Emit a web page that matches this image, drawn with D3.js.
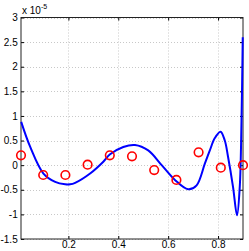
<!DOCTYPE html>
<html><head><meta charset="utf-8">
<script src="https://cdn.jsdelivr.net/npm/d3@7"></script>
<style>body{margin:0;background:#fff}svg{display:block}</style>
</head><body>
<script>
// data (y values in units of 1e-5)
const pointX = [0.01,0.099,0.188,0.277,0.366,0.455,0.544,0.633,0.722,0.811,0.9];
const pointY = [0.2,-0.2,-0.2,0.01,0.2,0.18,-0.1,-0.3,0.26,-0.05,0.0];
const curveX = [0.0108,0.047,0.1,0.147,0.187,0.207,0.227,0.287,0.34,0.367,0.42,0.467,0.52,0.574,0.627,0.68,0.714,0.747,0.767,0.787,0.81,0.827,0.84,0.86,0.876,0.887,0.894,0.899];
const curveY = [0.88,0.37,-0.17,-0.34,-0.39,-0.39,-0.36,-0.17,0.07,0.22,0.37,0.41,0.30,0.0,-0.3,-0.49,-0.41,0.03,0.3,0.55,0.68,0.5,0.17,-0.44,-1.02,-0.44,0.9,2.6];
const xTicks = [0.2,0.4,0.6,0.8];
const yTicks = [-1.5,-1,-0.5,0,0.5,1,1.5,2,2.5,3];

const W=249,H=251;
const L=21,R=243,T=17.5,B=239;
const svg=d3.select("body").append("svg").attr("width",W).attr("height",H);
const x=d3.scaleLinear().domain([0.01,0.9]).range([L,R]);
const y=d3.scaleLinear().domain([-1.5,3]).range([B,T]);
const font="Liberation Sans, Arial, Helvetica, sans-serif";

// grid
const g=svg.append("g");
g.selectAll(".gx").data(xTicks).join("line")
 .attr("x1",d=>Math.round(x(d))+0.5).attr("x2",d=>Math.round(x(d))+0.5)
 .attr("y1",T).attr("y2",B).attr("stroke","#c8c8c8").attr("stroke-dasharray","1,2");
g.selectAll(".gy").data(yTicks).join("line")
 .attr("y1",d=>Math.round(y(d))+0.5).attr("y2",d=>Math.round(y(d))+0.5)
 .attr("x1",L).attr("x2",R).attr("stroke","#c8c8c8").attr("stroke-dasharray","1,2");

// axes with inward ticks
const fmt=d=>String(d);
const ax=svg.append("g").attr("transform",`translate(0,${B})`)
 .call(d3.axisBottom(x).tickValues(xTicks).tickSize(-3).tickPadding(3).tickFormat(fmt));
const ay=svg.append("g").attr("transform",`translate(${L},0)`)
 .call(d3.axisLeft(y).tickValues(yTicks).tickSize(-3).tickPadding(3.3).tickFormat(fmt));
const axT=svg.append("g").attr("transform",`translate(0,${T})`)
 .call(d3.axisTop(x).tickValues(xTicks).tickSize(-3).tickFormat(""));
const ayR=svg.append("g").attr("transform",`translate(${R},0)`)
 .call(d3.axisRight(y).tickValues(yTicks).tickSize(-3).tickFormat(""));
[ax,ay,axT,ayR].forEach(a=>{
  a.select(".domain").remove();
  a.selectAll("line").attr("stroke","#000");
  a.selectAll("text").attr("font-family",font).attr("font-size",10).attr("fill","#000");
});
ax.selectAll("text").attr("dy","0.62em");
svg.append("rect").attr("x",L).attr("y",T).attr("width",R-L).attr("height",B-T)
 .attr("fill","none").attr("stroke","#222").attr("stroke-width",1);

// exponent label
const ex=svg.append("text").attr("x",L+1).attr("y",14).attr("font-family",font).attr("font-size",10).attr("fill","#000");
ex.append("tspan").text("x 10");
ex.append("tspan").attr("dy",-5).attr("font-size",7).text("-5");

// curve
const pts=curveX.map((d,i)=>[d,curveY[i]]);
svg.append("path").datum(pts)
 .attr("d",d3.line().x(d=>x(d[0])).y(d=>y(d[1])).curve(d3.curveCatmullRom.alpha(0.5)))
 .attr("fill","none").attr("stroke","#0000ff").attr("stroke-width",2);

// circles
svg.selectAll(".pt").data(pointX.map((d,i)=>[d,pointY[i]])).join("circle")
 .attr("cx",d=>x(d[0])).attr("cy",d=>y(d[1])).attr("r",4.3)
 .attr("fill","none").attr("stroke","#ff0000").attr("stroke-width",1.6);
</script>
</body></html>
